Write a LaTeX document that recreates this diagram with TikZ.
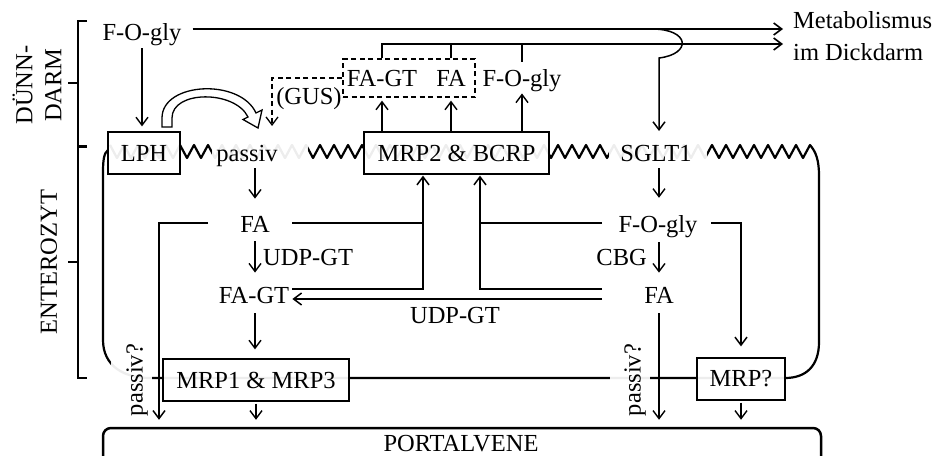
\documentclass[tikz,border=0pt]{standalone}
\usepackage{fontspec}
\setmainfont{Liberation Serif}
\usetikzlibrary{arrows.meta}
\pgfdeclarelayer{bg}
\pgfsetlayers{bg,main}
\begin{document}
\begin{tikzpicture}[x=1pt,y=-1pt,
  every node/.style={inner sep=0pt, font=\fontsize{24.5}{27}\selectfont},
  barb/.tip={Straight Barb[length=8pt,width=12pt]},
  arr/.style={line width=1.4pt, -barb},
  ln/.style={line width=1.6pt},
  box/.style={draw, line width=1.3pt, fill=white, fill opacity=0.93, text opacity=1, minimum height=42pt},
  mem/.style={line width=2.2pt, line join=round},
  patch/.style={fill=white, fill opacity=0.93},
  dsh/.style={line width=1.3pt, dash pattern=on 5pt off 3.5pt},
  brk/.style={line width=1.6pt},
]
\useasboundingbox (0,0) rectangle (934,455);
\clip (0,0) rectangle (934,455);

% ---------- nodes ----------
\node[anchor=base] (fogA) at (142,40) {F-O-gly};
\node[anchor=base west] (meta1) at (793,28) {Metabolismus};
\node[anchor=base west] (meta2) at (793,60) {im Dickdarm};
\node[draw, dsh, minimum width=132pt, minimum height=38pt] (dbox) at (409,78) {};
\node[anchor=base] (fagtD) at (382,86) {FA-GT};
\node[anchor=base] (faD) at (451,86) {FA};
\node[anchor=base] (fogD) at (522,86) {F-O-gly};
\node[anchor=base] (gus) at (309,104) {(GUS)};
\node[box, minimum width=72pt] (lph) at (144,153) {LPH};
\node[anchor=base] (passiv) at (247,161) {passiv};
\node[box, minimum width=185pt] (mrp2) at (456.5,153) {MRP2 \& BCRP};
\node[anchor=base] (sglt) at (656,161) {SGLT1};
\node[anchor=base] (faL) at (255,232) {FA};
\node[anchor=base west] (udp1) at (263,265) {UDP-GT};
\node[anchor=base] (fagtL) at (254,303) {FA-GT};
\node[anchor=base] (fogR) at (658,232) {F-O-gly};
\node[anchor=base east] (cbg) at (647,265) {CBG};
\node[anchor=base] (faR) at (659,303) {FA};
\node[anchor=base] (udp2) at (455,323) {UDP-GT};
\node[box, minimum width=186pt] (mrp1) at (256,380) {MRP1 \& MRP3};
\node[box, minimum width=88pt] (mrpq) at (741,379) {MRP?};
\node[rotate=90] (pq1) at (137,380) {passiv?};
\node[rotate=90] (pq2) at (635,380) {passiv?};
\node[draw, line width=2.5pt, rounded corners=8pt, minimum width=718pt, minimum height=60pt] (portal) at (462,458) {};
\node[anchor=base] (portaltxt) at (461,451) {PORTALVENE};
\node[rotate=90, align=center, font=\fontsize{24.5}{29}\selectfont] (duenn) at (37,85) {DÜNN-\\DARM};
\node[rotate=90] (entero) at (49,262) {ENTEROZYT};

% ---------- membrane (background) ----------
\begin{pgfonlayer}{bg}
\draw[mem] (108,150) .. controls (104,153) and (103,160) .. (103,172) -- (103,340)
  .. controls (103,366) and (124,378) .. (150,378) -- (785,378)
  .. controls (806,378) and (819,366) .. (819,342) -- (819,176)
  .. controls (819,160) and (816,152) .. (810,145)
  \foreach \j in {1,...,100}{ -- ({810-7*\j},{151.5-6.5*(1-2*mod(\j,2))}) };
\fill[patch] (212,139) rectangle (308,165);
\fill[patch] (609,139) rectangle (707,165);
\fill[patch] (111,358) rectangle (152,384);
\fill[patch] (610,372) rectangle (650,384);
\end{pgfonlayer}

% ---------- brackets ----------
\draw[brk] (87,21) -- (78,21) -- (78,146) -- (87,146);
\draw[brk] (78,83) -- (68,83);
\draw[brk] (87,147) -- (78,147) -- (78,378) -- (87,378);
\draw[brk] (78,262) -- (68,262);

% ---------- connectors ----------
\draw[arr, shorten <=3pt, shorten >=5pt] (fogA.south) -- (fogA.south |- lph.north);
\coordinate (t1) at (783,29);
\coordinate (t2) at (783,44);
\draw[arr, line width=1.6pt] ([xshift=11pt]fogA.east |- t1) -- (t1);
\draw[arr, line width=1.6pt] (dbox.north -| fagtD) |- (t2);
\draw[ln] (dbox.north -| faD) -- (faD |- t2);
\draw[ln, shorten <=7pt] (fogD.north) -- (fogD.north |- t2);
\coordinate (b0) at (652,29);
\coordinate (b1) at (659,58);
\coordinate (sgltin) at (659,131);
\draw[arr, line width=1.5pt] (b0) .. controls (690,29) and (692,54) .. (b1) -- (sgltin);

\draw[arr, shorten >=3pt] (mrp2.north -| fagtD) -- (dbox.south -| fagtD);
\draw[arr, shorten >=3pt] (mrp2.north -| faD) -- (dbox.south -| faD);
\draw[arr, shorten >=2pt] (mrp2.north -| fogD) -- (fogD.south);

\coordinate (gusin) at (272,126);
\draw[dsh, -barb] (dbox.west) -| (gusin);

% hollow curved arrow LPH -> passiv
\draw[line width=1.3pt, fill=white, line join=miter] (162,127) -- (162,118)
  .. controls (162,82) and (240,78) .. (256,113) -- (262,110) -- (258,128)
  -- (243,119.5) -- (248,117) .. controls (235,90) and (172,90) .. (172,118)
  -- (172,127) -- cycle;

% left column
\draw[arr, shorten <=2pt, shorten >=17pt] (passiv.south -| faL) -- (faL.north);
\coordinate (jL0) at (208,223);
\coordinate (jL) at (159,223);
\draw[arr, line width=1.5pt, shorten >=7pt] (jL0) -- (jL) -- (jL |- portal.north);
\draw[arr, shorten <=9pt, shorten >=14pt] (faL.south) -- (faL.south |- fagtL.north);
\draw[arr, shorten <=10pt, shorten >=9pt] (faL |- fagtL.south) -- (faL |- mrp1.north);
\draw[arr, shorten <=2pt, shorten >=7pt] (mrp1.south) -- (mrp1.south |- portal.north);

% middle connections
\coordinate (m0) at (292,223);
\coordinate (jM1) at (423,223);
\coordinate (m1) at (292,289);
\coordinate (jM2) at (423,289);
\draw[ln] (m0) -- (jM1);
\draw[arr, line width=1.5pt, shorten >=1pt] (m1) -- (jM2) -- (jM2 |- mrp2.south);
\coordinate (r0) at (602,223);
\coordinate (jR1) at (480,223);
\coordinate (r1) at (602,289);
\coordinate (jR2) at (480,289);
\draw[ln] (r0) -- (jR1);
\draw[arr, line width=1.5pt, shorten >=1pt] (r1) -- (jR2) -- (jR2 |- mrp2.south);
\coordinate (u0) at (602,299);
\draw[arr, line width=1.5pt, shorten >=3pt] (u0) -- (u0 -| fagtL.east);

% right column
\draw[arr, shorten <=7pt, shorten >=17pt] (sglt.south -| faR) -- (faR |- fogR.north);
\draw[arr, shorten <=5pt, shorten >=14pt] (faR |- fogR.south) -- (faR.north);
\draw[arr, shorten <=10pt, shorten >=7pt] (faR.south) -- (faR.south |- portal.north);
\coordinate (fr) at (711,223);
\draw[arr, line width=1.5pt, shorten >=11pt] (fr) -| (mrpq.north);
\draw[arr, shorten <=2pt, shorten >=7pt] (mrpq.south) -- (mrpq.south |- portal.north);
\end{tikzpicture}
\end{document}
